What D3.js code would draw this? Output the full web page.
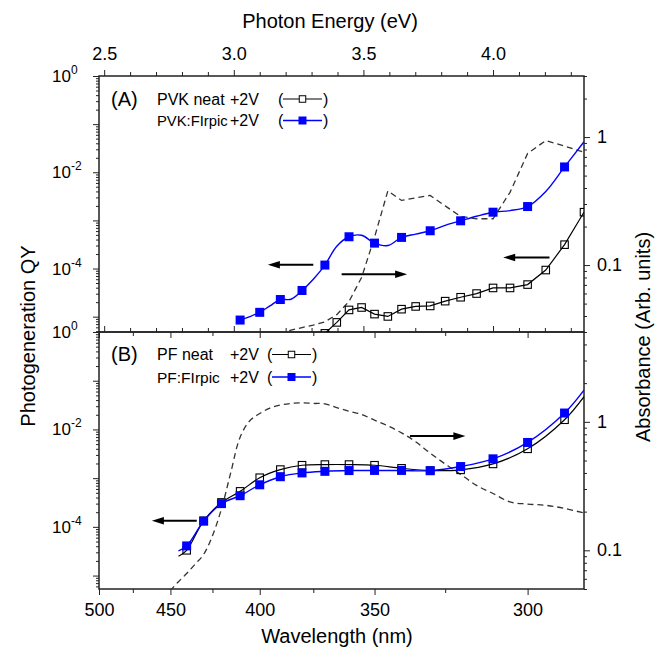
<!DOCTYPE html>
<html><head><meta charset="utf-8">
<script src="https://cdn.jsdelivr.net/npm/d3@7"></script>
<style>
body{margin:0;background:#fff}
text{font-family:"Liberation Sans",Arial,sans-serif;fill:#000}
</style></head><body>
<svg id="c" width="661" height="649"></svg>
<script>
// ---------- data ----------
const energyMajor = [2.5, 3.0, 3.5, 4.0];
const energyMinor = [2.6,2.7,2.8,2.9,3.1,3.2,3.3,3.4,3.6,3.7,3.8,3.9,4.1,4.2,4.3];
const wavelengthMajor = [500, 450, 400, 350, 300];
const wavelengthMinor = [475, 425, 375, 325];
const qyLabelExp = [0, -2, -4];
const absLabels = [1, 0.1];

// Panel A: PVK
const wlA_neat = [370,365,360,355,350,345,340,335,330,325,320,315,310,305,300,295,290,285];
const qyA_neat = [4.5e-6,7.6e-6,1.38e-5,1.55e-5,1.13e-5,1.01e-5,1.43e-5,1.63e-5,1.67e-5,2.1e-5,2.53e-5,3.02e-5,3.95e-5,3.95e-5,4.64e-5,9.3e-5,3.13e-4,1.48e-3];
const wlA_firpic = [410,405,400,395,390,385,380,375,370,365,360,355,350,345,340,335,330,325,320,315,310,305,300,295,290,285];
const qyA_firpic = [8.5e-6,1.0e-5,1.23e-5,1.67e-5,2.27e-5,2.3e-5,3.5e-5,6.0e-5,1.18e-4,2.9e-4,4.57e-4,4.9e-4,3.37e-4,3.0e-4,4.43e-4,5.2e-4,6.09e-4,7.9e-4,9.8e-4,1.22e-3,1.48e-3,1.6e-3,1.94e-3,4.0e-3,1.29e-2,4.3e-2];
const wlA_abs = [395,390,385,380,375,370,365,360,355,350,345,340,335,330,325,320,315,310,305,300,295,290,285];
const absA = [0.028,0.0295,0.031,0.0325,0.034,0.036,0.041,0.052,0.080,0.165,0.38,0.32,0.335,0.35,0.29,0.24,0.23,0.23,0.37,0.745,0.94,0.85,0.76];

// Panel B: PF
const wlB = [445,440,430,420,410,400,390,380,370,360,350,340,330,320,310,300,290,285];
const qyB_neat = [2.5e-5,3.3e-5,1.33e-4,3.17e-4,5.35e-4,1.02e-3,1.5e-3,1.84e-3,1.9e-3,1.9e-3,1.84e-3,1.59e-3,1.43e-3,1.48e-3,1.96e-3,4.0e-3,1.58e-2,4.7e-2];
const qyB_firpic = [3.2e-5,4.06e-5,1.31e-4,3.0e-4,4.36e-4,7.3e-4,1.07e-3,1.28e-3,1.38e-3,1.43e-3,1.44e-3,1.44e-3,1.42e-3,1.73e-3,2.49e-3,5.4e-3,2.17e-2,6.4e-2];
const wlB_abs = [455,450,445,440,435,430,425,420,415,410,405,400,395,390,385,380,375,370,365,360,355,350,345,340,335,330,325,320,315,310,305,300,295,290,285];
const absB = [0.043,0.049,0.057,0.066,0.078,0.093,0.13,0.21,0.40,0.76,1.02,1.16,1.28,1.35,1.39,1.405,1.39,1.38,1.29,1.21,1.14,1.03,0.93,0.82,0.70,0.57,0.47,0.39,0.32,0.277,0.238,0.229,0.224,0.212,0.195];

// arrows: tail wavelength, head wavelength, QY level
const arrowsA = [[375,396,1.2e-4],[363,338,7.6e-5],[294,307,1.7e-4]];
const arrowsB = [[434,462,1.33e-4],[337,318.5,7.3e-3]];

// ---------- layout ----------
const X0=99, X1=584, TOP=76, MID=332, BOT=589;
const FRAME='#222';
const svg = d3.select('#c');
const xE = d3.scaleLinear().domain([1240/500, 1240/285]).range([X0, X1]);
const xw = w => xE(1240/w);
const yA = d3.scaleLog().domain([4.8e-6, 1]).range([MID, TOP]);
const yB = d3.scaleLog().domain([5.3e-6, 1]).range([BOT, MID]);
const rA = d3.scaleLog().domain([0.03, 3]).range([MID, TOP]);
const rB = d3.scaleLog().domain([0.05, 5]).range([BOT, MID]);

const defs = svg.append('defs');
defs.append('clipPath').attr('id','clipA').append('rect').attr('x',X0).attr('y',TOP).attr('width',X1-X0).attr('height',MID-TOP);
defs.append('clipPath').attr('id','clipB').append('rect').attr('x',X0).attr('y',MID).attr('width',X1-X0).attr('height',BOT-MID);

function style(g){
  g.select('.domain').remove();
  g.selectAll('.tick line').attr('stroke',FRAME).attr('stroke-width',1);
  g.selectAll('.tick text').attr('font-family','"Liberation Sans",Arial,sans-serif').attr('font-size',18).attr('fill','#000');
}
const isMajorLog = t => Math.abs(Math.log10(t) - Math.round(Math.log10(t))) < 1e-9;

// top energy axis
svg.append('g').attr('transform',`translate(0,${TOP})`)
  .call(d3.axisTop(xE).tickValues(energyMajor).tickSize(6).tickPadding(10).tickFormat(d3.format('.1f'))).call(style);
svg.append('g').attr('transform',`translate(0,${TOP})`)
  .call(d3.axisTop(xE).tickValues(energyMinor).tickSize(4).tickFormat('')).call(style);
// middle: wavelength ticks down (panel A bottom), energy ticks up (panel B top)
svg.append('g').attr('transform',`translate(0,${MID})`)
  .call(d3.axisBottom(xE).tickValues(wavelengthMajor.map(w=>1240/w)).tickSize(6).tickFormat('')).call(style);
svg.append('g').attr('transform',`translate(0,${MID})`)
  .call(d3.axisBottom(xE).tickValues(wavelengthMinor.map(w=>1240/w)).tickSize(4).tickFormat('')).call(style);
svg.append('g').attr('transform',`translate(0,${MID})`)
  .call(d3.axisTop(xE).tickValues(energyMajor).tickSize(6).tickFormat('')).call(style);
svg.append('g').attr('transform',`translate(0,${MID})`)
  .call(d3.axisTop(xE).tickValues(energyMinor).tickSize(4).tickFormat('')).call(style);
// bottom wavelength axis
svg.append('g').attr('transform',`translate(0,${BOT})`)
  .call(d3.axisBottom(xE).tickValues(wavelengthMajor.map(w=>1240/w)).tickSize(6).tickPadding(8).tickFormat(e=>Math.round(1240/e))).call(style);
svg.append('g').attr('transform',`translate(0,${BOT})`)
  .call(d3.axisBottom(xE).tickValues(wavelengthMinor.map(w=>1240/w)).tickSize(4).tickFormat('')).call(style);

// left / right log axes
function logAxes(y, r){
  const yt = y.ticks();
  svg.append('g').attr('transform',`translate(${X0},0)`).call(d3.axisLeft(y).tickValues(yt.filter(isMajorLog)).tickSize(6).tickFormat('')).call(style);
  svg.append('g').attr('transform',`translate(${X0},0)`).call(d3.axisLeft(y).tickValues(yt.filter(t=>!isMajorLog(t))).tickSize(3).tickFormat('')).call(style);
  const rt = r.ticks();
  svg.append('g').attr('transform',`translate(${X1},0)`).call(d3.axisRight(r).tickValues(rt.filter(isMajorLog)).tickSize(6).tickFormat('')).call(style);
  svg.append('g').attr('transform',`translate(${X1},0)`).call(d3.axisRight(r).tickValues(rt.filter(t=>!isMajorLog(t))).tickSize(3).tickFormat('')).call(style);
  qyLabelExp.forEach(e=>{
    const t = svg.append('text').attr('x',52).attr('y',y(Math.pow(10,e))+6).attr('font-size',17);
    t.append('tspan').text('10');
    t.append('tspan').attr('font-size',12).attr('dy',-8).text(e===0?'0':'-'+(-e));
  });
  absLabels.forEach(v=>{
    svg.append('text').attr('x',597).attr('y',r(v)+6).attr('font-size',18).text(String(v));
  });
}
logAxes(yA, rA);
logAxes(yB, rB);

// frames
[[TOP,MID],[MID,BOT]].forEach(([a,b])=>{
  svg.append('rect').attr('x',X0).attr('y',a).attr('width',X1-X0).attr('height',b-a)
    .attr('fill','none').attr('stroke',FRAME).attr('stroke-width',1.5);
});

// ---------- series ----------
function series(clip, wl, vals, y, o){
  const g = svg.append('g').attr('clip-path',`url(#${clip})`);
  const pts = wl.map((w,i)=>[xw(w), y(vals[i]), w]);
  g.append('path').attr('d', d3.line().curve(o.curve||d3.curveLinear)(pts))
    .attr('fill','none').attr('stroke',o.color).attr('stroke-width',o.width||1.2)
    .attr('stroke-dasharray',o.dash||null);
  if(o.marker){
    const s=o.size;
    g.selectAll('rect.m').data(pts.filter(p=>o.markEvery? p[2]%o.markEvery===0 : true)).enter().append('rect')
      .attr('x',p=>p[0]-s/2).attr('y',p=>p[1]-s/2).attr('width',s).attr('height',s)
      .attr('fill',o.marker==='open'?'none':o.color).attr('stroke',o.color).attr('stroke-width',o.marker==='open'?1.1:0);
  }
}
// Panel A
series('clipA', wlA_abs, absA, rA, {color:'#333', dash:'6,4', width:1.3});
series('clipA', wlA_neat, qyA_neat, yA, {color:'#000', marker:'open', size:7.5});
series('clipA', wlA_firpic, qyA_firpic, yA, {color:'#0000ff', width:1.4, curve:d3.curveCatmullRom, marker:'fill', size:9, markEvery:10});
// Panel B
series('clipB', wlB_abs, absB, rB, {color:'#333', dash:'6,4', width:1.3, curve:d3.curveCatmullRom});
series('clipB', wlB, qyB_neat, yB, {color:'#000', curve:d3.curveCatmullRom, marker:'open', size:7.5, markEvery:10});
series('clipB', wlB, qyB_firpic, yB, {color:'#0000ff', width:1.4, curve:d3.curveCatmullRom, marker:'fill', size:9, markEvery:10});

// arrows
function arrow(y, a){
  const x1=xw(a[0]), x2=xw(a[1]), yy=y(a[2]);
  const dir = Math.sign(x2-x1), hl=12, hw=3.8;
  svg.append('line').attr('x1',x1).attr('y1',yy).attr('x2',x2-dir*hl+dir*1).attr('y2',yy).attr('stroke','#000').attr('stroke-width',2);
  svg.append('path').attr('d',`M${x2},${yy}L${x2-dir*hl},${yy-hw}L${x2-dir*hl},${yy+hw}Z`).attr('fill','#000');
}
arrowsA.forEach(a=>arrow(yA,a));
arrowsB.forEach(a=>arrow(yB,a));

// ---------- legends ----------
function legend(label, x0, rows){
  svg.append('text').attr('x',111).attr('y',rows[0].base+1).attr('font-size',20).text(label);
  rows.forEach(r=>{
    svg.append('text').attr('x',157).attr('y',r.base).attr('font-size',r.fs).text(r.name);
    svg.append('text').attr('x',230).attr('y',r.base).attr('font-size',16).text('+2V');
    svg.append('text').attr('x',x0).attr('y',r.base).attr('font-size',16).text('(');
    const ly = r.base-5.5, l1=x0+5, l2=x0+44;
    svg.append('line').attr('x1',l1).attr('x2',l2).attr('y1',ly).attr('y2',ly).attr('stroke',r.color).attr('stroke-width',r.color==='#000'?1.1:1.4);
    const s = r.fill? 8 : 6.5, cx=(l1+l2)/2;
    svg.append('rect').attr('x',cx-s/2).attr('y',ly-s/2).attr('width',s).attr('height',s)
      .attr('fill',r.fill?r.color:'#fff').attr('stroke',r.color).attr('stroke-width',r.fill?0:1);
    svg.append('text').attr('x',l2+1).attr('y',r.base).attr('font-size',16).text(')');
  });
}
legend('(A)', 278, [{name:'PVK neat',fs:16,base:104.5,color:'#000',fill:false},{name:'PVK:FIrpic',fs:14.8,base:126,color:'#0000ff',fill:true}]);
legend('(B)', 267, [{name:'PF neat',fs:16,base:360,color:'#000',fill:false},{name:'PF:FIrpic',fs:15.5,base:382.5,color:'#0000ff',fill:true}]);

// ---------- axis titles ----------
svg.append('text').attr('x',330).attr('y',28).attr('text-anchor','middle').attr('font-size',20).text('Photon Energy (eV)');
svg.append('text').attr('x',337).attr('y',643).attr('text-anchor','middle').attr('font-size',20).text('Wavelength (nm)');
svg.append('text').attr('transform','translate(35,336) rotate(-90)').attr('text-anchor','middle').attr('font-size',20).text('Photogeneration QY');
svg.append('text').attr('transform','translate(650,337) rotate(-90)').attr('text-anchor','middle').attr('font-size',20).text('Absorbance (Arb. units)');
</script>
</body></html>
